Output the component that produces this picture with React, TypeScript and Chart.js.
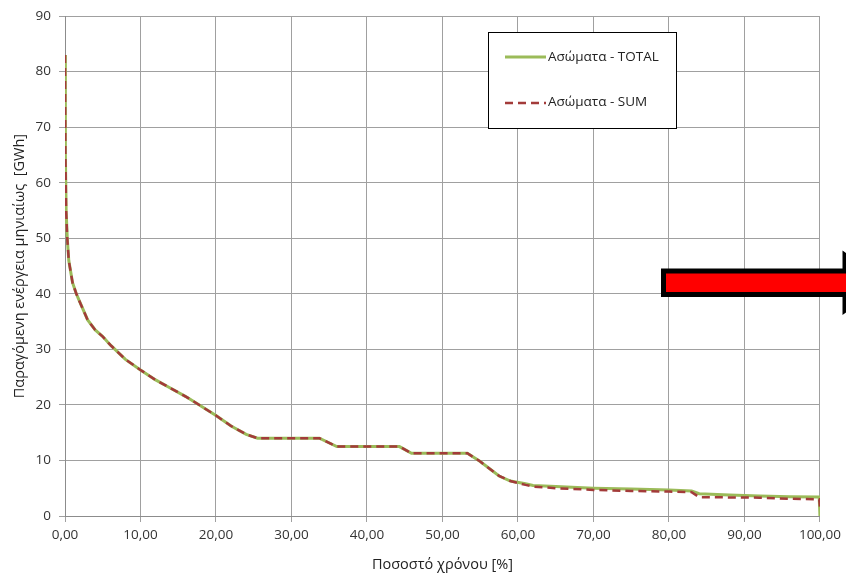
import React, { useEffect, useRef } from "react";
import { Chart, registerables } from "chart.js";

Chart.register(...registerables);

// Percentage of time (x)
const pct = [0, 0.05, 0.15, 0.3, 0.5, 1, 1.5, 2, 3, 4, 5, 6, 7, 8, 10, 12, 14, 16, 18, 20, 22, 24, 25.5, 30, 33.7, 36, 40, 44.3, 45.9, 50, 53.3, 55, 57.5, 59, 61, 62, 65, 70, 75, 80, 83, 84, 88, 92, 96, 99.9, 100];

// Ασώματα - TOTAL
const totalValues = [83, 65, 55, 50, 46, 42, 40, 38.4, 35.3, 33.5, 32.3, 30.8, 29.5, 28.2, 26.3, 24.5, 23, 21.5, 19.8, 18.1, 16.2, 14.7, 14, 14, 14, 12.5, 12.5, 12.5, 11.3, 11.3, 11.3, 9.8, 7.2, 6.3, 5.8, 5.5, 5.3, 5.0, 4.85, 4.7, 4.5, 4.0, 3.8, 3.6, 3.45, 3.4, 0];

// Ασώματα - SUM
const sumValues = [83, 65, 55, 50, 46, 42, 40, 38.4, 35.3, 33.5, 32.3, 30.8, 29.5, 28.2, 26.3, 24.5, 23, 21.5, 19.8, 18.1, 16.2, 14.7, 14, 14, 14, 12.5, 12.5, 12.5, 11.3, 11.3, 11.3, 9.8, 7.2, 6.3, 5.6, 5.3, 5.0, 4.7, 4.5, 4.4, 4.3, 3.4, 3.35, 3.3, 3.1, 3.0, 1.7];

const xTickLabels = ["0,00", "10,00", "20,00", "30,00", "40,00", "50,00", "60,00", "70,00", "80,00", "90,00", "100,00"];
const seriesNames = ["Ασώματα - TOTAL", "Ασώματα - SUM"];
const xTitle = "Ποσοστό χρόνου [%]";
const yTitle = "Παραγόμενη ενέργεια μηνιαίως  [GWh]";

const FONT = "'Open Sans', sans-serif";
const GREEN = "#9bbb59";
const RED = "#a33b3a";

const legendPlugin = {
  id: "boxLegend",
  afterDraw(chart: any) {
    const ctx = chart.ctx;
    ctx.save();
    ctx.fillStyle = "#ffffff";
    ctx.fillRect(488.5, 32.5, 188, 96);
    ctx.strokeStyle = "#000000";
    ctx.lineWidth = 1;
    ctx.strokeRect(488.5, 32.5, 188, 96);
    // TOTAL
    ctx.strokeStyle = GREEN;
    ctx.lineWidth = 3;
    ctx.setLineDash([]);
    ctx.beginPath();
    ctx.moveTo(505, 57);
    ctx.lineTo(546, 57);
    ctx.stroke();
    // SUM
    ctx.strokeStyle = RED;
    ctx.lineWidth = 2.5;
    ctx.setLineDash([8, 5]);
    ctx.beginPath();
    ctx.moveTo(505, 103);
    ctx.lineTo(546, 103);
    ctx.stroke();
    ctx.setLineDash([]);
    ctx.fillStyle = "#222";
    ctx.font = `13.5px ${FONT}`;
    ctx.textBaseline = "middle";
    ctx.textAlign = "left";
    ctx.fillText(seriesNames[0], 548, 57);
    ctx.fillText(seriesNames[1], 548, 102);
    ctx.restore();
  },
};

const arrowPlugin = {
  id: "redArrow",
  afterDraw(chart: any) {
    const ctx = chart.ctx;
    ctx.save();
    ctx.beginPath();
    ctx.moveTo(663.5, 271);
    ctx.lineTo(845, 271);
    ctx.lineTo(845, 255.5);
    ctx.lineTo(880, 282.75);
    ctx.lineTo(845, 310);
    ctx.lineTo(845, 294.5);
    ctx.lineTo(663.5, 294.5);
    ctx.closePath();
    ctx.fillStyle = "#ff0000";
    ctx.fill();
    ctx.lineWidth = 5;
    ctx.strokeStyle = "#000000";
    ctx.lineJoin = "miter";
    ctx.stroke();
    ctx.restore();
  },
};

export default function App() {
  const ref = useRef<HTMLCanvasElement | null>(null);

  useEffect(() => {
    document.body.style.margin = "0";
    const canvas = ref.current;
    if (!canvas) return;
    const chart = new Chart(canvas, {
      type: "line",
      data: {
        datasets: [
          {
            label: seriesNames[0],
            data: pct.map((x, i) => ({ x, y: totalValues[i] })),
            borderColor: GREEN,
            borderWidth: 3,
            pointRadius: 0,
            tension: 0,
            fill: false,
            order: 2,
          },
          {
            label: seriesNames[1],
            data: pct.map((x, i) => ({ x, y: sumValues[i] })),
            borderColor: RED,
            borderWidth: 2.5,
            borderDash: [8, 5],
            pointRadius: 0,
            tension: 0,
            fill: false,
            order: 1,
          },
        ],
      },
      options: {
        responsive: false,
        animation: false,
        layout: { padding: { top: 16, right: 25, left: 0, bottom: 0 } },
        plugins: {
          legend: { display: false },
          tooltip: { enabled: false },
        },
        scales: {
          x: {
            type: "linear",
            min: 0,
            max: 100,
            afterFit: (scale: any) => {
              scale.height = 63;
            },
            ticks: {
              stepSize: 10,
              padding: 5,
              color: "#333",
              font: { family: FONT, size: 13.5 },
              maxRotation: 0,
              callback: (_v: any, i: number) => xTickLabels[i],
            },
            grid: { color: "#a0a0a0", lineWidth: 1, tickLength: 6, drawTicks: true },
            border: { color: "#8c8c8c" },
            title: {
              display: true,
              text: xTitle,
              color: "#222",
              font: { family: FONT, size: 14.5 },
              padding: { top: 0, bottom: 5 },
            },
          },
          y: {
            type: "linear",
            min: 0,
            max: 90,
            afterFit: (scale: any) => {
              scale.width = 65;
            },
            ticks: {
              stepSize: 10,
              padding: 8,
              color: "#333",
              font: { family: FONT, size: 13.5 },
            },
            grid: { color: "#a0a0a0", lineWidth: 1, tickLength: 6, drawTicks: true },
            border: { color: "#8c8c8c" },
            title: {
              display: true,
              text: yTitle,
              color: "#222",
              font: { family: FONT, size: 14.5 },
              padding: { top: 11, bottom: 0 },
            },
          },
        },
      },
      plugins: [legendPlugin, arrowPlugin],
    });
    return () => chart.destroy();
  }, []);

  return (
    <div style={{ width: 846, height: 579, background: "#fff" }}>
      <canvas ref={ref} width={846} height={579} />
    </div>
  );
}
